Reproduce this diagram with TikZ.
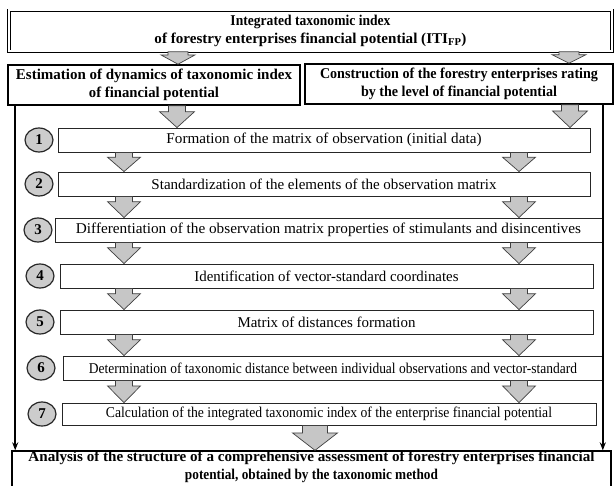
\documentclass[tikz,border=0pt]{standalone}
\usepackage{graphicx}
\usepackage{fontspec}
\setmainfont{Liberation Serif}
\usetikzlibrary{calc,arrows.meta,shapes.geometric}
\newcommand{\stepfnt}{\fontsize{15}{17}\selectfont}
\newcommand{\headfnt}{\bfseries\fontsize{15}{18.5}\selectfont}
\newcommand{\fitw}[2]{\resizebox{#1}{\height}{#2}}
\newcommand{\blockarr}[6]{%
  \draw[barrow] let \p1=(#1,0), \p2=(#2.south), \p3=(#3.north) in
   ({\x1-#4bp},\y2) -- ({\x1+#4bp},\y2) -- ({\x1+#4bp},{\y2+#6*(\y3-\y2)})
   -- ({\x1+#5bp},{\y2+#6*(\y3-\y2)}) -- (\x1,\y3)
   -- ({\x1-#5bp},{\y2+#6*(\y3-\y2)}) -- ({\x1-#4bp},{\y2+#6*(\y3-\y2)}) -- cycle;}
\begin{document}
\begin{tikzpicture}[x=1bp,y=-1bp,
  stepbox/.style={draw=black!85, line width=0.9bp, inner sep=0pt, font=\stepfnt},
  num/.style={ellipse, draw=black!85, line width=1.2bp, fill=gray!40, minimum width=28bp, minimum height=24bp, inner sep=0pt, font=\bfseries\fontsize{15}{15}\selectfont},
  barrow/.style={draw=black!75, fill=gray!45, line width=0.7bp, line join=miter},
  headbox/.style={draw, line width=1.6bp, inner sep=0pt, align=center, font=\headfnt},
  vline/.style={line width=1.6bp, -{Stealth[length=8bp,width=6bp]}}]
\clip (0,0) rectangle (614,486);
\fill[white] (0,0) rectangle (614,486);
% top box
\node[draw, double, double distance=2bp, line width=0.7bp, minimum width=603bp, minimum height=41bp, inner sep=0pt, align=center, font=\headfnt] (top) at (310.5,31)
  {\fitw{160bp}{Integrated taxonomic index}\\\fitw{312bp}{of forestry enterprises financial potential (ITI\textsubscript{FP})}};
% second row
\node[headbox, minimum width=292bp, minimum height=40bp] (lb) at (154,85)
  {\fitw{276bp}{Estimation of dynamics of taxonomic index}\\\fitw{130bp}{of financial potential}};
\node[headbox, minimum width=308bp, minimum height=40bp] (rb) at (459,84)
  {\fitw{278bp}{Construction of the forestry enterprises rating}\\\fitw{196bp}{by the level of financial potential}};
% steps
\node[stepbox, minimum width=532bp, minimum height=24bp] (s1) at (324,140) {\fitw{315bp}{Formation of the matrix of observation (initial data)}};
\node[stepbox, minimum width=532bp, minimum height=24bp] (s2) at (324,184) {\fitw{345bp}{Standardization of the elements of the observation matrix}};
\node[stepbox, minimum width=547bp, minimum height=24bp] (s3) at (328.5,230) {\fitw{505bp}{Differentiation of the observation matrix properties of stimulants and disincentives}};
\node[stepbox, minimum width=533bp, minimum height=24bp] (s4) at (326.5,276) {\fitw{264bp}{Identification of vector-standard coordinates}};
\node[stepbox, minimum width=533bp, minimum height=24bp] (s5) at (326.5,322) {\fitw{178bp}{Matrix of distances formation}};
\node[stepbox, minimum width=540bp, minimum height=24bp] (s6) at (333,368) {\fitw{488bp}{Determination of taxonomic distance between individual observations and vector-standard}};
\node[stepbox, minimum width=534bp, minimum height=22bp] (s7) at (329,414) {\fitw{446bp}{Calculation of the integrated taxonomic index of the enterprise financial potential}};
% numbers
\node[num] (c1) at (39,140) {1};
\node[num] (c2) at (39,184) {2};
\node[num] (c3) at (38,230) {3};
\node[num] (c4) at (40,276) {4};
\node[num] (c5) at (40,322) {5};
\node[num] (c6) at (41,368) {6};
\node[num] (c7) at (42,414) {7};
% bottom box
\node[draw, line width=1.3bp, minimum width=599bp, minimum height=38bp, inner sep=0pt] (bot) at (311.5,470) {};
\node[align=center, inner sep=0pt, font=\headfnt] (bottxt) at (311.5,467)
  {\fitw{566bp}{Analysis of the structure of a comprehensive assessment of forestry enterprises financial}\\\fitw{253bp}{potential, obtained by the taxonomic method}};
% block arrows
\blockarr{178}{top}{lb}{10}{17}{0.25}
\blockarr{569}{top}{rb}{10}{17}{0.25}
\blockarr{177}{lb}{s1}{8.5}{17.5}{0.27}
\blockarr{570}{rb}{s1}{8.5}{17.5}{0.27}
\foreach \a/\b in {s1/s2,s2/s3,s3/s4,s4/s5,s5/s6,s6/s7}{
  \blockarr{124}{\a}{\b}{8.5}{16.5}{0.25}
  \blockarr{519}{\a}{\b}{8.5}{16.5}{0.25}
}
\blockarr{315}{s7}{bot}{12.5}{22.5}{0.3}
% side connectors
\coordinate (lv) at ([xshift=8bp]lb.south west);
\coordinate (rv) at ([xshift=-11bp]rb.south east);
\draw[vline] (lv) -- (lv |- bot.north);
\draw[vline] (rv) -- (rv |- bot.north);
\end{tikzpicture}
\end{document}
